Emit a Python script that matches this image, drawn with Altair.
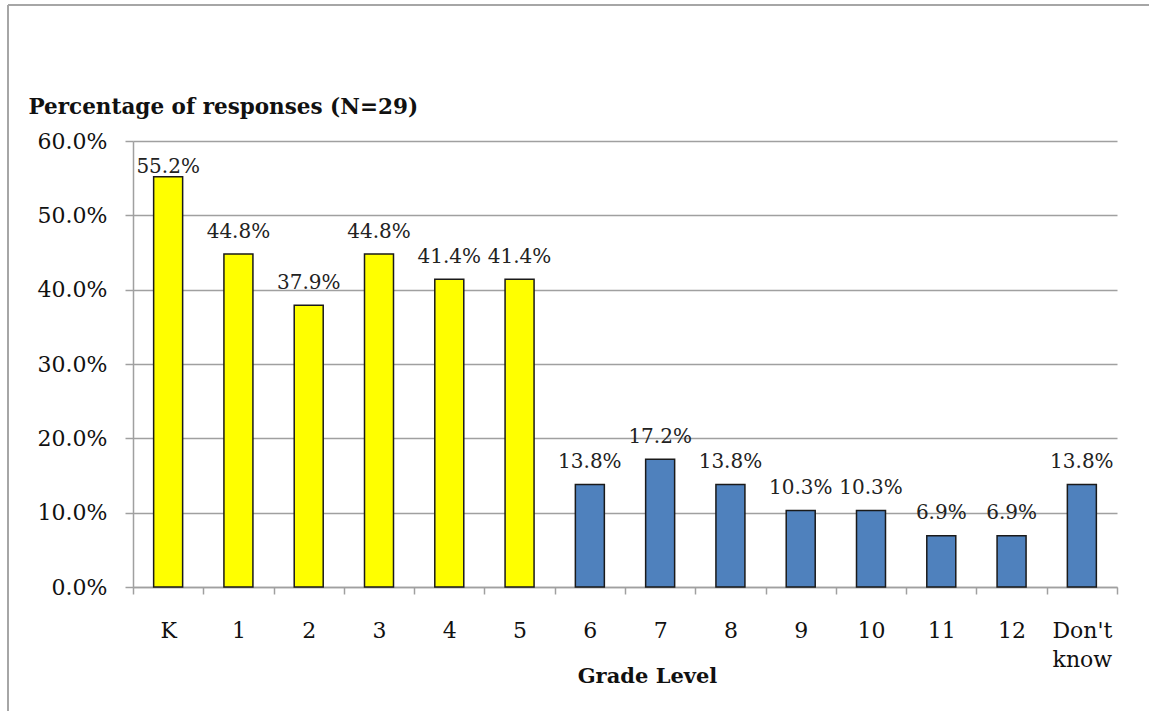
import altair as alt
import pandas as pd

grades = ["K", "1", "2", "3", "4", "5", "6", "7", "8", "9", "10", "11", "12", "Don't know"]
values = [0.552, 0.448, 0.379, 0.448, 0.414, 0.414, 0.138, 0.172, 0.138, 0.103, 0.103, 0.069, 0.069, 0.138]
groups = ["Elementary"] * 6 + ["Secondary"] * 8
y_ticks = [0.0, 0.1, 0.2, 0.3, 0.4, 0.5, 0.6]

df = pd.DataFrame({"grade": grades, "value": values, "group": groups})

FONT = "DejaVu Serif"
GRAY = "#a0a0a0"

x_enc = alt.X(
    "grade:N",
    sort=grades,
    scale=alt.Scale(paddingInner=0, paddingOuter=0),
    axis=alt.Axis(
        title="Grade Level",
        titleFont=FONT,
        titleFontSize=21,
        titleFontWeight="bold",
        titleColor="#111",
        titleX=514,
        titleY=95,
        titleAlign="center",
        titleBaseline="alphabetic",
        labelFont=FONT,
        labelFontSize=22,
        labelColor="#111",
        labelAngle=0,
        labelPadding=26,
        labelLineHeight=29,
        labelExpr="split(datum.label, ' ')",
        tickBand="extent",
        tickSize=7,
        tickColor=GRAY,
        tickWidth=1.5,
        domainColor=GRAY,
        domainWidth=1.5,
        grid=False,
    ),
)

bars = alt.Chart(df).mark_bar(width=29, stroke="#1a1a1a", strokeWidth=1.5).encode(
    x=x_enc,
    y=alt.Y(
        "value:Q",
        scale=alt.Scale(domain=[0, 0.6], nice=False),
        axis=alt.Axis(
            values=y_ticks,
            format=".1%",
            title="Percentage of responses (N=29)",
            titleAngle=0,
            titleFont=FONT,
            titleFontSize=21.5,
            titleFontWeight="bold",
            titleColor="#111",
            titleX=-105,
            titleY=-28,
            titleAlign="left",
            titleBaseline="alphabetic",
            labelFont=FONT,
            labelFontSize=22,
            labelColor="#111",
            labelPadding=18,
            tickSize=8,
            tickColor=GRAY,
            tickWidth=1.5,
            domainColor=GRAY,
            domainWidth=1.5,
            grid=True,
            gridColor=GRAY,
            gridWidth=1.5,
        ),
    ),
    color=alt.Color(
        "group:N",
        scale=alt.Scale(domain=["Elementary", "Secondary"], range=["#FFFF00", "#4F81BD"]),
        legend=None,
    ),
)

labels = alt.Chart(df).transform_calculate(
    label_y="min(datum.value + 0.03, 0.565)"
).mark_text(font=FONT, fontSize=20, color="#222", baseline="middle", align="center").encode(
    x=alt.X("grade:N", sort=grades),
    y=alt.Y("label_y:Q"),
    text=alt.Text("value:Q", format=".1%"),
)

border_top = alt.Chart(pd.DataFrame({"a": [0]})).mark_rule(color="#a6a6a6", strokeWidth=2).encode(
    x=alt.value(-125), x2=alt.value(1016), y=alt.value(-136)
)
border_left = alt.Chart(pd.DataFrame({"a": [0]})).mark_rule(color="#a6a6a6", strokeWidth=2).encode(
    x=alt.value(-125), y=alt.value(-136), y2=alt.value(575)
)

chart = alt.layer(bars, labels, border_top, border_left).properties(
    width=984,
    height=446,
    autosize=alt.AutoSizeParams(type="none"),
    padding={"left": 133, "top": 141, "right": 32, "bottom": 124},
).configure(background="white").configure_view(stroke="transparent", strokeWidth=0)

chart.save("out.html", embed_options={"renderer": "svg", "actions": False})
